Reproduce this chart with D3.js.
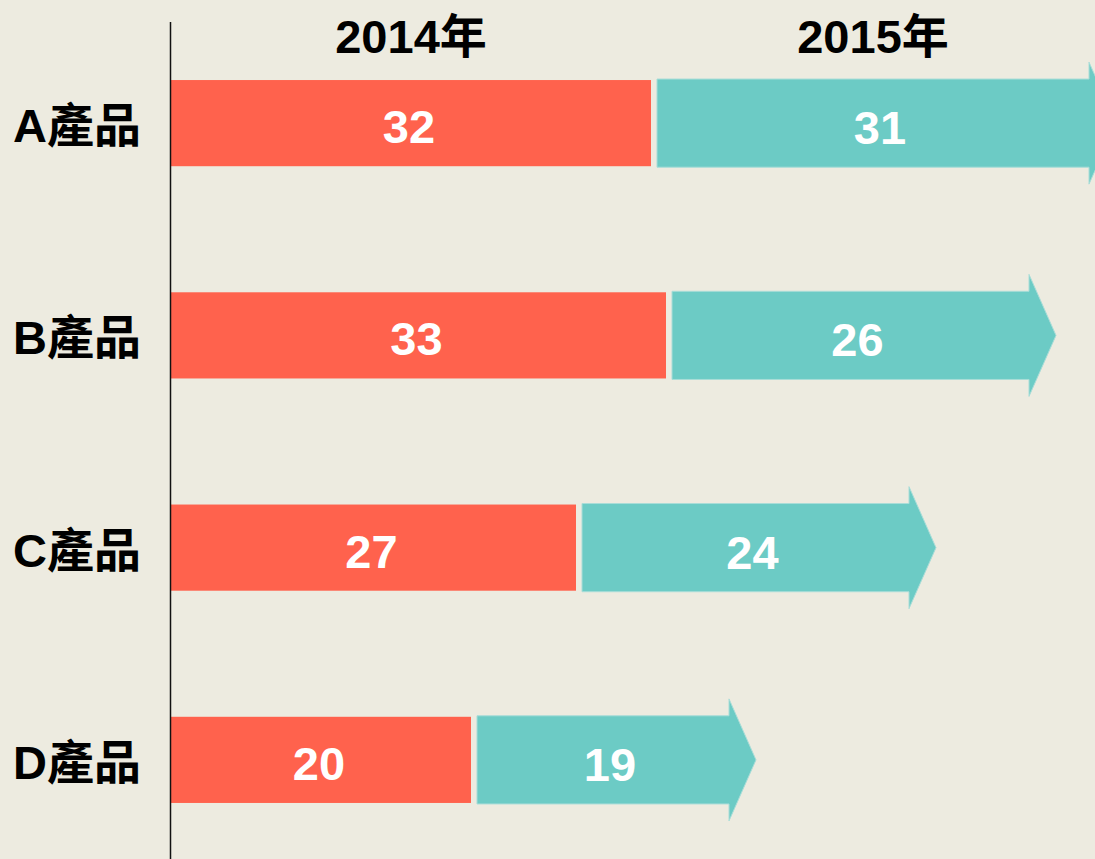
<!DOCTYPE html>
<html>
<head>
<meta charset="utf-8">
<script src="https://cdn.jsdelivr.net/npm/d3@7"></script>
<style>
  html, body { margin: 0; padding: 0; background: #edebe0; }
  svg { display: block; }
  text { font-family: "Liberation Sans", Arial, "Noto Sans CJK TC", sans-serif; font-weight: bold; }
</style>
</head>
<body>
<div id="container"></div>
<script>
// data
const products = ['A產品', 'B產品', 'C產品', 'D產品']
const years = ['2014年', '2015年']
const sales2014 = [32, 33, 27, 20]
const sales2015 = [31, 26, 24, 19]

const w = 1095
const h = 859

const red = '#ff624d'
const teal = '#6ccbc5'

const svg = d3.select('#container')
  .append('svg')
  .attr('width', w)
  .attr('height', h)

svg.append('rect')
  .attr('width', w)
  .attr('height', h)
  .attr('fill', '#edebe0')

// scales
const x = d3.scaleLinear()
  .domain([0, 60])
  .range([171, 1071])

const y = d3.scaleBand()
  .domain(products)
  .range([17, 866])
  .paddingInner(0.594)
  .paddingOuter(0.297)

const gap = 6
const headLen = 27
const headHalf = 61
const fs = 47

const rows = products.map((p, i) => ({ name: p, a: sales2014[i], b: sales2015[i] }))

// arrow shape for 2015
const arrow = d => {
  const x0 = x(d.a) + gap
  const tip = x(d.a + d.b)
  const cy = y(d.name) + y.bandwidth() / 2
  const bh = y.bandwidth() / 2 + 1
  return `M${x0},${cy - bh}L${tip - headLen},${cy - bh}L${tip - headLen},${cy - headHalf}` +
    `L${tip},${cy}L${tip - headLen},${cy + headHalf}L${tip - headLen},${cy + bh}L${x0},${cy + bh}Z`
}

const row = svg.selectAll('g.row')
  .data(rows)
  .enter()
  .append('g')
  .attr('class', 'row')

row.append('rect')
  .attr('x', x(0))
  .attr('y', d => y(d.name))
  .attr('width', d => x(d.a) - x(0))
  .attr('height', y.bandwidth())
  .attr('fill', red)

row.append('path')
  .attr('d', arrow)
  .attr('fill', teal)
  .attr('stroke', '#a9ddd8')
  .attr('stroke-width', 1)

// values
row.append('text')
  .attr('x', d => (x(0) + x(d.a)) / 2 - 2)
  .attr('y', d => y(d.name) + y.bandwidth() / 2 + 20)
  .attr('text-anchor', 'middle')
  .attr('fill', '#fff')
  .attr('font-size', fs)
  .text(d => d.a)

row.append('text')
  .attr('x', d => {
    const x0 = x(d.a) + gap
    return x0 + (x(d.a + d.b) - x0 - 13) / 2
  })
  .attr('y', d => y(d.name) + y.bandwidth() / 2 + 21)
  .attr('text-anchor', 'middle')
  .attr('fill', '#fff')
  .attr('font-size', fs)
  .text(d => d.b)

// category labels
row.append('text')
  .attr('x', 77)
  .attr('y', d => y(d.name) + y.bandwidth() / 2 + 19)
  .attr('text-anchor', 'middle')
  .attr('fill', '#000')
  .attr('font-size', fs)
  .text(d => d.name)

// year headers, centred over the first row
const first = rows[0]
svg.append('text')
  .attr('x', (x(0) + x(first.a)) / 2)
  .attr('y', 53)
  .attr('text-anchor', 'middle')
  .attr('font-size', fs)
  .text(years[0])

svg.append('text')
  .attr('x', (x(first.a) + gap + x(first.a + first.b) - headLen) / 2)
  .attr('y', 53)
  .attr('text-anchor', 'middle')
  .attr('font-size', fs)
  .text(years[1])

// vertical axis line
svg.append('line')
  .attr('x1', 170.5)
  .attr('x2', 170.5)
  .attr('y1', 22)
  .attr('y2', h)
  .attr('stroke', '#111')
  .attr('stroke-width', 1.5)
</script>
</body>
</html>
